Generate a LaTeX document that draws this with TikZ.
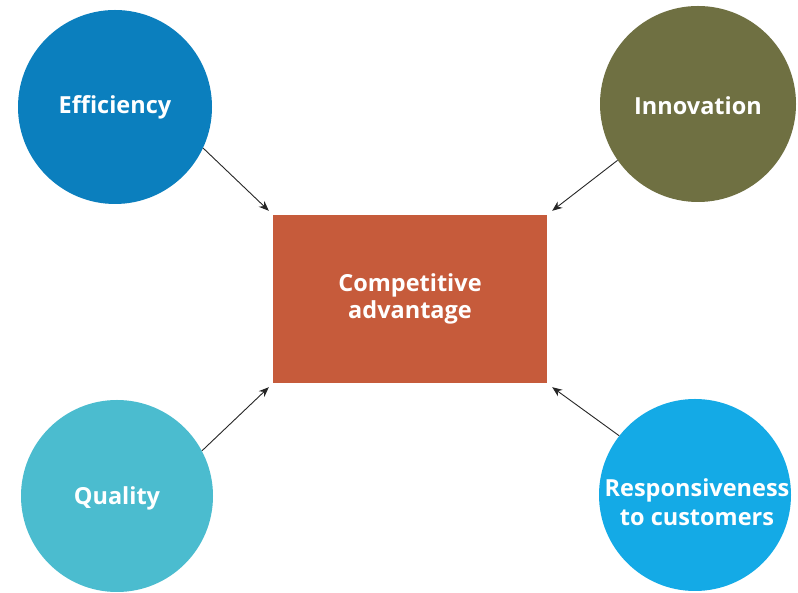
\documentclass[tikz,border=0pt]{standalone}
\usepackage{fontspec}
\setmainfont{Open Sans}[Ligatures=NoCommon]
\usetikzlibrary{arrows.meta,calc}
\definecolor{effblue}{HTML}{0B7FBE}
\definecolor{innolive}{HTML}{6F7042}
\definecolor{qualcyan}{HTML}{4BBCCF}
\definecolor{respblue}{HTML}{14AAE6}
\definecolor{rectred}{HTML}{C65B3B}
\begin{document}
\begin{tikzpicture}[x=1pt,y=1pt,
  bubble/.style={circle,inner sep=0pt,text=white,font=\fontsize{23.5}{29}\selectfont\bfseries,align=center},
  core/.style={rectangle,inner sep=0pt,minimum width=274pt,minimum height=168pt,fill=rectred,text=white,font=\fontsize{23.5}{27}\selectfont\bfseries,align=center},
  link/.style={draw=black!85,line width=0.9pt,-{Stealth[length=10pt,width=8pt]}}]
\useasboundingbox[fill=white] (0,0) rectangle (798,593);
\node[core] (ca) at (410,294) {Competitive\\advantage};
\node[bubble,fill=effblue,minimum size=194pt] (eff) at (115,486) {};
\node[bubble,fill=innolive,minimum size=196pt] (inn) at (698,489) {};
\node[bubble,fill=qualcyan,minimum size=192pt] (qual) at (117,97) {};
\node[bubble,fill=respblue,minimum size=192pt] (resp) at (695,98) {};
\node[bubble] (efft) at (115,486) {Efficiency};
\node[bubble] (innt) at (698,487) {Innovation};
\node[bubble] (qualt) at (117,95) {Quality};
\node[bubble] (respt) at (697,91) {Responsiveness\\to customers};
\coordinate (e1) at ($(ca.north west)+(-4,4)$);
\coordinate (e2) at ($(ca.north east)+(5,4)$);
\coordinate (e3) at ($(ca.south west)+(-4,-4)$);
\coordinate (e4) at ($(ca.south east)+(5,-4)$);
\draw[link] (eff.-25) -- (e1);
\draw[link] (inn.-145) -- (e2);
\draw[link] (qual.28) -- (e3);
\draw[link] (resp.142) -- (e4);
\end{tikzpicture}
\end{document}
